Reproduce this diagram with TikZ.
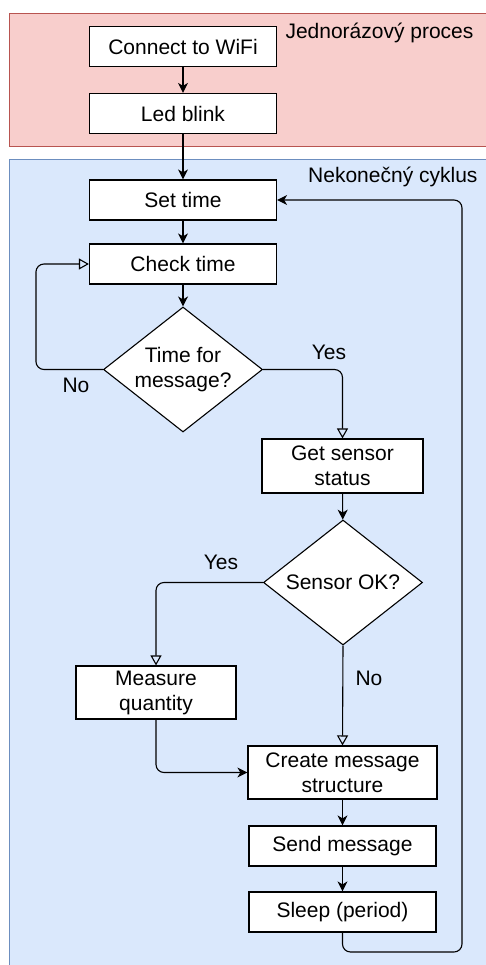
\documentclass[tikz,border=0pt]{standalone}
\usepackage{fontspec}
\setmainfont{Liberation Sans}
\usepackage{tikz}
\usetikzlibrary{positioning, arrows.meta, shapes.geometric}

\definecolor{onceFill}{HTML}{F8CECC}
\definecolor{onceLine}{HTML}{B85450}
\definecolor{loopFill}{HTML}{DAE8FC}
\definecolor{loopLine}{HTML}{6C8EBF}

\begin{document}
\begin{tikzpicture}[x=1pt, y=-1pt, font=\fontsize{21}{25}\selectfont]
\tikzstyle{block}=[draw, rectangle, fill=white, line width=1.2pt, text centered, align=center, inner sep=0pt, minimum height=40pt, minimum width=187pt]
\tikzstyle{decision}=[draw, diamond, fill=white, line width=1.1pt, align=center, inner sep=0pt, aspect=1.27, minimum width=159pt, minimum height=125pt]
\tikzstyle{flow}=[draw, line width=1.1pt, rounded corners=8pt, -{Stealth[length=10pt, width=10pt, inset=3pt]}]
\tikzstyle{branch}=[draw, line width=1.1pt, rounded corners=8pt, -{Triangle[open, length=10pt, width=11pt]}]

\useasboundingbox (0,0) rectangle (486,965);
\path[draw=onceLine, fill=onceFill, line width=1pt] (9.5,13.5) rectangle (500,146.5);
\path[draw=loopLine, fill=loopFill, line width=1pt] (9.5,160) rectangle (500,980);

\node[anchor=east](once) 	at	(477,33){Jednorázový proces};
\node[anchor=east](cycle) 	at	(481,177){Nekonečný cyklus};

\node[block](wifi) 	at	(183,46.5){Connect to WiFi};
\node[block](led) 	at	(183,113.5){Led blink};

\node[block](settime) 	at	(183,200){Set time};
\node[block](check) 	at	(183,264){Check time};
\node[decision](tfm) 	at	(183,369.5){Time for\\message?};
\node[block, minimum width=161pt, minimum height=54pt](status) 	at	(342.5,466){Get sensor\\status};
\node[decision](sok) 	at	(343,582.5){Sensor OK?};
\node[block, minimum width=160pt, minimum height=53pt](measure) 	at	(156,692.5){Measure\\quantity};
\node[block, minimum width=189pt, minimum height=53pt](create) 	at	(342.5,772.5){Create message\\structure};
\node[block](send) 	at	(342.5,846){Send message};
\node[block](sleep) 	at	(342.5,912){Sleep (period)};

\coordinate(back) at (462,952);

\path[flow](wifi) -- (led);
\path[flow](led) -- (settime);
\path[flow](settime) -- (check);
\path[flow](check) -- (tfm);
\path[branch](tfm.west) -- ++(-67,0) |- (check.west);
\path[branch](tfm.east) -| (status.north);
\path[flow](status) -- (sok);
\path[branch](sok.west) -| (measure.north);
\path[branch](sok.south) -- (create.north);
\path[flow](measure.south) |- (create.west);
\path[flow](create) -- (send);
\path[flow](send) -- (sleep);
\path[flow](sleep.south) |- (back) |- (settime.east);

\node(yes1) at (329,352){Yes};
\node(no1) at (76,385){No};
\node(yes2) at (221,562){Yes};
\node(no2) at (369,678){No};

\end{tikzpicture}
\end{document}
